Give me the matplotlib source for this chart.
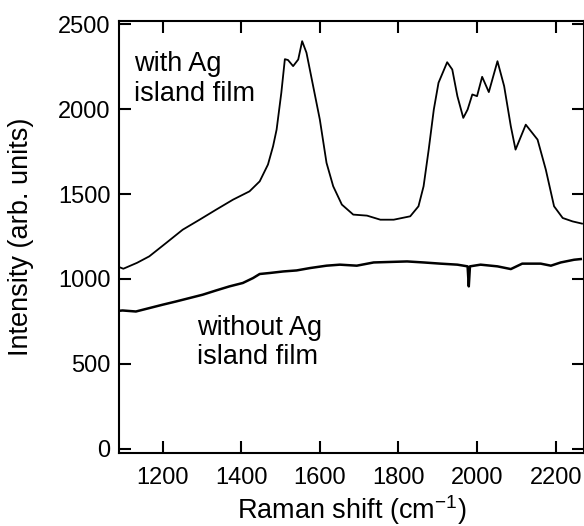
import matplotlib
matplotlib.use("Agg")
import matplotlib.pyplot as plt

plt.rcParams['font.family'] = ['Liberation Sans', 'DejaVu Sans']
plt.rcParams['mathtext.fontset'] = 'custom'
plt.rcParams['mathtext.rm'] = 'Liberation Sans'
plt.rcParams['mathtext.it'] = 'Liberation Sans:italic'

# spectrum with Ag island film
with_x = [1089, 1100, 1115, 1135, 1166, 1209, 1251, 1294, 1336, 1379, 1421, 1447,
          1468, 1481, 1490, 1502, 1511, 1519, 1532, 1545, 1555, 1566, 1583, 1600,
          1617, 1634, 1656, 1685, 1720, 1754, 1788, 1830, 1851, 1864, 1877, 1890,
          1902, 1924, 1937, 1950, 1965, 1976, 1988, 2000, 2013, 2030, 2052, 2069,
          2086, 2098, 2124, 2154, 2175, 2196, 2218, 2243, 2267]
with_y = [1070, 1060, 1075, 1095, 1133, 1212, 1290, 1349, 1408, 1467, 1516, 1575,
          1674, 1782, 1880, 2097, 2295, 2290, 2254, 2293, 2401, 2333, 2136, 1939,
          1684, 1546, 1438, 1379, 1373, 1349, 1349, 1369, 1428, 1546, 1762, 1998,
          2156, 2277, 2234, 2077, 1949, 1998, 2087, 2077, 2191, 2101, 2283, 2136,
          1899, 1762, 1909, 1821, 1644, 1428, 1359, 1339, 1326]

# spectrum without Ag island film
without_x = [1089, 1098, 1132, 1166, 1200, 1234, 1268, 1302, 1336, 1370, 1404, 1430,
             1447, 1473, 1507, 1541, 1575, 1617, 1651, 1694, 1737, 1779, 1822, 1864,
             1907, 1950, 1976, 1979, 1982, 2009, 2052, 2086, 2115, 2162, 2188, 2213,
             2247, 2264]
without_y = [812, 814, 808, 828, 848, 867, 887, 907, 932, 956, 976, 1005,
             1029, 1035, 1044, 1050, 1064, 1078, 1084, 1078, 1097, 1100, 1103, 1097,
             1090, 1084, 1074, 956, 1074, 1084, 1074, 1058, 1090, 1090, 1078, 1097,
             1113, 1117]

x_ticks = [1200, 1400, 1600, 1800, 2000, 2200]
y_ticks = [0, 500, 1000, 1500, 2000, 2500]

fig = plt.figure(figsize=(5.84, 5.26), dpi=100)
ax = fig.add_axes([0.2038, 0.1394, 0.7954, 0.8207])

ax.plot(with_x, with_y, color='black', lw=1.3)
ax.plot(without_x, without_y, color='black', lw=1.8)

ax.set_xlim(1089, 2271)
ax.set_ylim(-24, 2520)
ax.set_xticks(x_ticks)
ax.set_yticks(y_ticks)

for s in ax.spines.values():
    s.set_linewidth(1.5)
ax.tick_params(direction='in', length=8.5, width=1.5, labelsize=17,
               top=True, right=True)
ax.tick_params(axis='x', pad=10)
ax.tick_params(axis='y', pad=6)

ax.set_xlabel('Raman shift (cm$^{-1}$)', fontsize=19.5)
ax.set_ylabel('Intensity (arb. units)', fontsize=19.5)
ax.xaxis.set_label_coords(0.5, -0.095)
ax.yaxis.set_label_coords(-0.183, 0.5)

ax.text(1128, 2224, 'with Ag', fontsize=19.5, va='baseline', ha='left')
ax.text(1128, 2051, 'island film', fontsize=19.5, va='baseline', ha='left')
ax.text(1287, 667, 'without Ag', fontsize=19.5, va='baseline', ha='left')
ax.text(1287, 500, 'island film', fontsize=19.5, va='baseline', ha='left')

fig.savefig('out.png', dpi=100)
